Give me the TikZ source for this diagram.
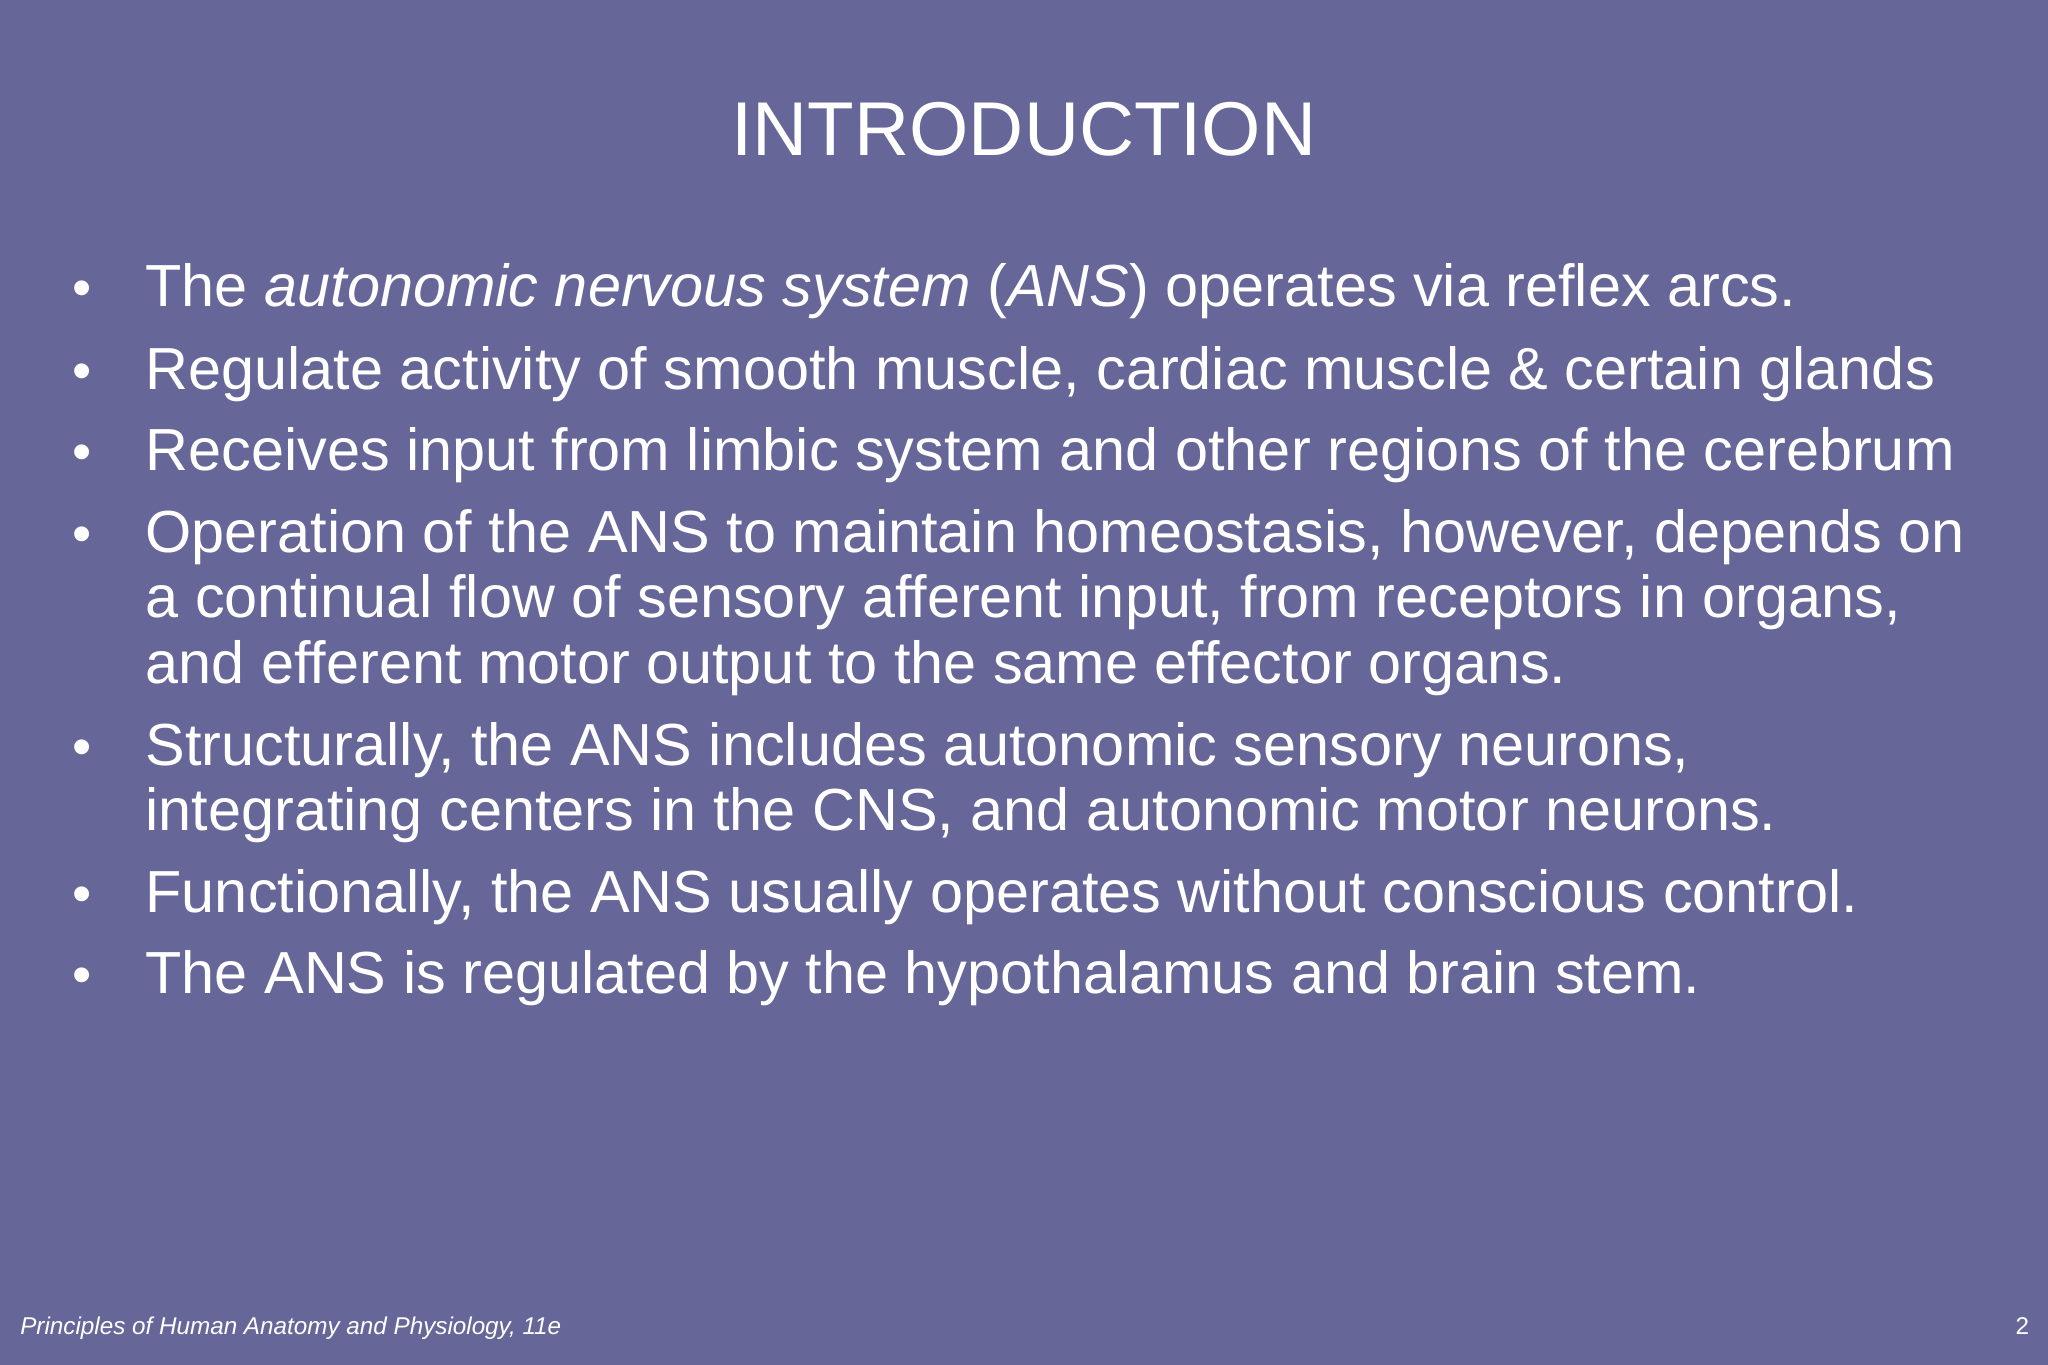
\documentclass[tikz,border=0pt]{standalone}
\usepackage{fontspec}
\setmainfont{Liberation Sans}
\definecolor{bg}{RGB}{103,102,153}
\begin{document}
\begin{tikzpicture}[x=0.01306cm,y=-0.01306cm,
  ln/.style={anchor=base west,inner sep=0,text=white,font=\fontsize{16.9pt}{19pt}\selectfont},
  bl/.style={anchor=base west,inner sep=0,text=white,font=\fontsize{15.6pt}{18pt}\selectfont}]
\fill[bg] (0,0) rectangle (1568,1045);
\useasboundingbox (0,0) rectangle (1568,1045);
\node[anchor=base,inner sep=0,text=white,font=\fontsize{21.7pt}{26pt}\selectfont] (title) at (784,119) {INTRODUCTION};
\foreach \y/\n in {235/1,298/2,360/3,423/4,586/5,699/6,761/7}{\node[bl] (b\n) at (55,\y) {•};}
\node[ln] (l1) at (111,235) {The \textit{autonomic nervous system} (\textit{ANS}) operates via reflex arcs.};
\node[ln] (l2) at (111,298) {Regulate activity of smooth muscle, cardiac muscle \& certain glands};
\node[ln] (l3) at (111,360) {Receives input from limbic system and other regions of the cerebrum};
\node[ln] (l4a) at (111,423) {Operation of the ANS to maintain homeostasis, however, depends on};
\node[ln] (l4b) at (111,473) {a continual flow of sensory afferent input, from receptors in organs,};
\node[ln] (l4c) at (111,523) {and efferent motor output to the same effector organs.};
\node[ln] (l5a) at (111,586) {Structurally, the ANS includes autonomic sensory neurons,};
\node[ln] (l5b) at (111,636) {integrating centers in the CNS, and autonomic motor neurons.};
\node[ln] (l6) at (111,699) {Functionally, the ANS usually operates without conscious control.};
\node[ln] (l7) at (111,761) {The ANS is regulated by the hypothalamus and brain stem.};
\node[anchor=base west,inner sep=0,text=white,font=\fontsize{6.9pt}{8pt}\selectfont\itshape] (foot) at (15,1022) {Principles of Human Anatomy and Physiology, 11e};
\node[anchor=base east,inner sep=0,text=white,font=\fontsize{6.9pt}{8pt}\selectfont] (pg) at (1554,1022) {2};
\end{tikzpicture}
\end{document}
